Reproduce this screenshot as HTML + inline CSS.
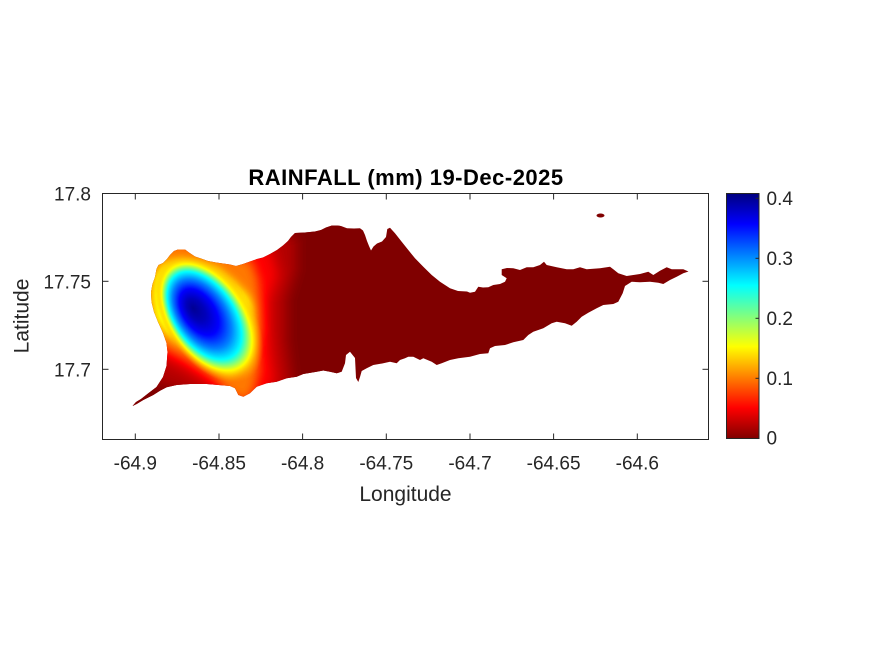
<!DOCTYPE html>
<html>
<head>
<meta charset="utf-8">
<style>
html,body{margin:0;padding:0;background:#fff;}
svg{display:block;}
text{font-family:"Liberation Sans",Arial,sans-serif;fill:#262626;}
</style>
</head>
<body>
<svg width="875" height="656" viewBox="0 0 875 656" xmlns="http://www.w3.org/2000/svg">
<defs>
  <clipPath id="isl">
    <path d="M132.5,406 L136,402 L141,399 L148,393.5 L156.5,387 L163,377 L166.5,366 L167.5,352 L166.5,343 L163,333 L158,322 L154,312 L151.5,302 L151,292 L152.5,284 L155,277 L156.5,269 L158.5,265 L163,263 L167,259 L170,255 L174,251 L178,249.5 L185,249.5 L189,252.5 L195,256.5 L201,258.5 L208,261 L216,262.5 L223,263.5 L230,264.5 L236,266 L243,264 L250,261.5 L257,259 L263,257.5 L270,254 L277,250 L283,245.5 L288,241 L291,237 L295,233 L305,232.5 L315,231.5 L321,230 L326,227.5 L332,225.5 L337,225.5 L341,226 L347,228.3 L354,228.5 L360,228.3 L363,230.5 L365,235 L367,241 L369,246 L371,250.5 L373.5,246.5 L377,243.5 L382,241.5 L386,237 L387.3,229 L390,227.7 L395,233.3 L401.7,241.7 L408.3,250 L415,258.3 L423.3,266.7 L431.7,275 L440,281.7 L450,288.3 L458,291 L467,291.5 L470,292.7 L475,291.7 L478.3,286.7 L483,287.5 L488.3,287.3 L493.3,285 L500,284 L505,281.7 L506.7,278.3 L501.7,275 L501.7,269.3 L507,268 L513.3,268.3 L520,270 L526.7,267.3 L533.3,267.3 L540,265 L544,261.7 L546.7,265 L556.7,267.3 L566.7,269.3 L573.3,269.3 L580,267.3 L586.7,269.3 L600,268.3 L610,266.7 L613.3,269.3 L618.3,273.3 L626.7,276 L633.3,275 L640,274 L648.3,271.7 L653.3,275 L660,270.7 L666.7,267.3 L671.7,269.3 L683.3,269.3 L688.5,271.5 L683.3,273.3 L676.7,276.7 L670,280 L663.3,284 L658.3,282.7 L650,281.7 L640,282.3 L631.7,281.7 L625,286 L622.7,293.3 L618.3,301.7 L613.3,304 L603.3,305 L596.7,308.3 L588.3,312.7 L581.7,316.7 L576.7,321.7 L571.7,325.7 L565,323.3 L556.7,321.7 L551.7,323.3 L543.3,328.3 L533.3,331.7 L528.3,335 L523.3,340 L513.3,342.3 L505,345 L495,346 L490,348.3 L488.3,353.3 L480,354 L470,356.7 L458.3,358.3 L450,360 L441.7,363.3 L436.7,365 L431.7,361.7 L423.3,358.3 L420,360 L413.3,356.7 L408.3,356.7 L405,358.3 L400,360 L396.7,363.3 L390,361.7 L383.3,363.3 L373.3,365 L366.7,368.3 L361.7,371 L360,377 L358.3,382 L356,378 L355.5,368 L355,358 L350,351.7 L346,355 L345,363.3 L341.7,371.7 L336.7,373.3 L330,371.7 L323.3,370.5 L316.7,371.7 L303.3,374 L296.7,376.7 L286.7,378.3 L276.7,381.7 L266.7,383.3 L256.7,386.7 L250,393.3 L243.3,396.7 L238.3,395 L235,388.3 L230,386 L206.7,384 L190,384 L176.7,385 L166.7,387.3 L160,390.7 L153.3,395 L143.3,400 L136.7,404 Z"/>
  </clipPath>

  <filter id="heat" filterUnits="userSpaceOnUse" x="100" y="200" width="240" height="240" color-interpolation-filters="sRGB">
    <feComponentTransfer>
      <feFuncR type="table" tableValues="0.5 1 1 1 0.5 0 0 0 0"/>
      <feFuncG type="table" tableValues="0 0 0.5 1 1 1 0.5 0 0"/>
      <feFuncB type="table" tableValues="0 0 0 0 0.5 1 1 1 0.5"/>
    </feComponentTransfer>
  </filter>
  <filter id="bl" filterUnits="userSpaceOnUse" x="100" y="200" width="240" height="240" color-interpolation-filters="sRGB">
    <feGaussianBlur stdDeviation="4.5"/>
  </filter>

  <radialGradient id="inner" gradientUnits="userSpaceOnUse" cx="0" cy="0" r="130" fx="-33.6" fy="21.8" gradientTransform="translate(223 328) rotate(55) scale(1 0.6)">
    <stop offset="0" stop-color="rgb(250,250,250)"/>
    <stop offset="0.10" stop-color="rgb(240,240,240)"/>
    <stop offset="0.20" stop-color="rgb(223,223,223)"/>
    <stop offset="0.30" stop-color="rgb(191,191,191)"/>
    <stop offset="0.38" stop-color="rgb(159,159,159)"/>
    <stop offset="0.42" stop-color="rgb(128,128,128)"/>
    <stop offset="0.46" stop-color="rgb(96,96,96)" stop-opacity="1"/>
    <stop offset="0.50" stop-color="rgb(82,82,82)" stop-opacity="0.6"/>
    <stop offset="0.55" stop-color="rgb(70,70,70)" stop-opacity="0"/>
  </radialGradient>

  <linearGradient id="cbar" x1="0" y1="0" x2="0" y2="1">
    <stop offset="0" stop-color="#000080"/>
    <stop offset="0.125" stop-color="#0000FF"/>
    <stop offset="0.375" stop-color="#00FFFF"/>
    <stop offset="0.625" stop-color="#FFFF00"/>
    <stop offset="0.875" stop-color="#FF0000"/>
    <stop offset="1" stop-color="#800000"/>
  </linearGradient>
</defs>

<rect x="0" y="0" width="875" height="656" fill="#fff"/>

<!-- island with rainfall field -->
<g clip-path="url(#isl)">
  <rect x="100" y="190" width="610" height="250" fill="#800000"/>
  <g filter="url(#heat)">
    <rect x="100" y="200" width="240" height="240" fill="#000"/>
    <g filter="url(#bl)" stroke-linejoin="round">
      <rect x="100" y="200" width="240" height="240" fill="#000"/>
      <!-- D level -->
      <path d="M140,222 L180,216 L222,220 L262,230 L293,241 L293,270 L284,300 L284,340 L289,380 L277,410 L242,424 L205,396 L180,386 L160,380 L132,358 L122,300 L126,250 Z" fill="rgb(6,6,6)" stroke="rgb(6,6,6)" stroke-width="14"/>
      <path d="M140,222 L180,216 L222,220 L262,230 L293,241 L293,270 L284,300 L284,340 L289,380 L277,410 L242,424 L205,396 L180,386 L160,380 L132,358 L122,300 L126,250 Z" fill="rgb(13,13,13)"/>
      <!-- R level -->
      <path d="M145,238 L175,231 L210,235 L245,244 L270,253 L276,275 L268,300 L268,330 L270,355 L273,378 L266,400 L242,410 L222,392 L203,378 L185,367 L168,358 L150,350 L136,320 L134,270 Z" fill="rgb(20,20,20)" stroke="rgb(20,20,20)" stroke-width="16"/>
      <path d="M145,238 L175,231 L210,235 L245,244 L270,253 L276,275 L268,300 L268,330 L270,355 L273,378 L266,400 L242,410 L222,392 L203,378 L185,367 L168,358 L150,350 L136,320 L134,270 Z" fill="rgb(31,31,31)"/>
      <!-- O level -->
      <path d="M150,250 L175,243 L200,248 L228,254 L250,263 L256,280 L258,305 L259,330 L256,350 L257,370 L252,390 L245,400 L232,392 L215,376 L200,366 L185,356 L170,348 L155,340 L145,320 L143,280 Z" fill="rgb(46,46,46)" stroke="rgb(46,46,46)" stroke-width="10"/>
      <path d="M150,250 L175,243 L200,248 L228,254 L250,263 L256,280 L258,305 L259,330 L256,350 L257,370 L252,390 L245,400 L232,392 L215,376 L200,366 L185,356 L170,348 L155,340 L145,320 L143,280 Z" fill="rgb(62,62,62)"/>
      <!-- Y level -->
      <path d="M172,262 L183,261 L200,264 L217,270 L233,283 L247,297 L251,307 L252,327 L248,345 L240,360 L230,372 L222,368 L206,358 L195,350 L180,342 L166,332 L156,318 L153,295 L156,276 L163,266 Z" fill="rgb(79,79,79)" stroke="rgb(79,79,79)" stroke-width="6"/>
      <path d="M172,262 L183,261 L200,264 L217,270 L233,283 L247,297 L251,307 L252,327 L248,345 L240,360 L230,372 L222,368 L206,358 L195,350 L180,342 L166,332 L156,318 L153,295 L156,276 L163,266 Z" fill="rgb(100,100,100)"/>
    </g>
    <rect x="100" y="200" width="240" height="240" fill="url(#inner)"/>
  </g>
</g>
<!-- small islet -->
<ellipse cx="600.5" cy="215.5" rx="4" ry="2" fill="#800000"/>

<!-- axes box -->
<rect x="102.5" y="193.5" width="606" height="246" fill="none" stroke="#262626" stroke-width="1"/>
<g stroke="#262626" stroke-width="1">
  <line x1="135.3" y1="439.5" x2="135.3" y2="433.5"/>
  <line x1="219" y1="439.5" x2="219" y2="433.5"/>
  <line x1="302.6" y1="439.5" x2="302.6" y2="433.5"/>
  <line x1="386.3" y1="439.5" x2="386.3" y2="433.5"/>
  <line x1="470" y1="439.5" x2="470" y2="433.5"/>
  <line x1="553.6" y1="439.5" x2="553.6" y2="433.5"/>
  <line x1="637.3" y1="439.5" x2="637.3" y2="433.5"/>
  <line x1="135.3" y1="193.5" x2="135.3" y2="199.5"/>
  <line x1="219" y1="193.5" x2="219" y2="199.5"/>
  <line x1="302.6" y1="193.5" x2="302.6" y2="199.5"/>
  <line x1="386.3" y1="193.5" x2="386.3" y2="199.5"/>
  <line x1="470" y1="193.5" x2="470" y2="199.5"/>
  <line x1="553.6" y1="193.5" x2="553.6" y2="199.5"/>
  <line x1="637.3" y1="193.5" x2="637.3" y2="199.5"/>
  <line x1="102.5" y1="281.3" x2="108.5" y2="281.3"/>
  <line x1="102.5" y1="369.3" x2="108.5" y2="369.3"/>
  <line x1="708.5" y1="281.3" x2="702.5" y2="281.3"/>
  <line x1="708.5" y1="369.3" x2="702.5" y2="369.3"/>
</g>

<!-- tick labels -->
<g font-size="19" text-anchor="middle">
  <text x="135.3" y="469.5">-64.9</text>
  <text x="219" y="469.5">-64.85</text>
  <text x="302.6" y="469.5">-64.8</text>
  <text x="386.3" y="469.5">-64.75</text>
  <text x="470" y="469.5">-64.7</text>
  <text x="553.6" y="469.5">-64.65</text>
  <text x="637.3" y="469.5">-64.6</text>
</g>
<g font-size="19" text-anchor="end">
  <text x="91" y="200.5">17.8</text>
  <text x="91" y="288.3">17.75</text>
  <text x="91" y="376.5">17.7</text>
</g>

<!-- axis labels -->
<text x="405.5" y="501" font-size="21" text-anchor="middle">Longitude</text>
<text transform="translate(28.5 316) rotate(-90)" font-size="21" text-anchor="middle">Latitude</text>

<!-- title -->
<text x="406" y="185" font-size="22" font-weight="bold" text-anchor="middle" letter-spacing="0.5" style="fill:#000">RAINFALL (mm) 19-Dec-2025</text>

<!-- colorbar -->
<rect x="726.5" y="193.5" width="32.5" height="245" fill="url(#cbar)" stroke="#262626" stroke-width="1"/>
<g stroke="#262626" stroke-width="1">
  <line x1="759" y1="198.3" x2="755.5" y2="198.3"/>
  <line x1="759" y1="258.3" x2="755.5" y2="258.3"/>
  <line x1="759" y1="318.3" x2="755.5" y2="318.3"/>
  <line x1="759" y1="378.3" x2="755.5" y2="378.3"/>
</g>
<g font-size="19">
  <text x="766.5" y="205">0.4</text>
  <text x="766.5" y="265">0.3</text>
  <text x="766.5" y="325">0.2</text>
  <text x="766.5" y="385">0.1</text>
  <text x="766.5" y="444.5">0</text>
</g>
</svg>
</body>
</html>
